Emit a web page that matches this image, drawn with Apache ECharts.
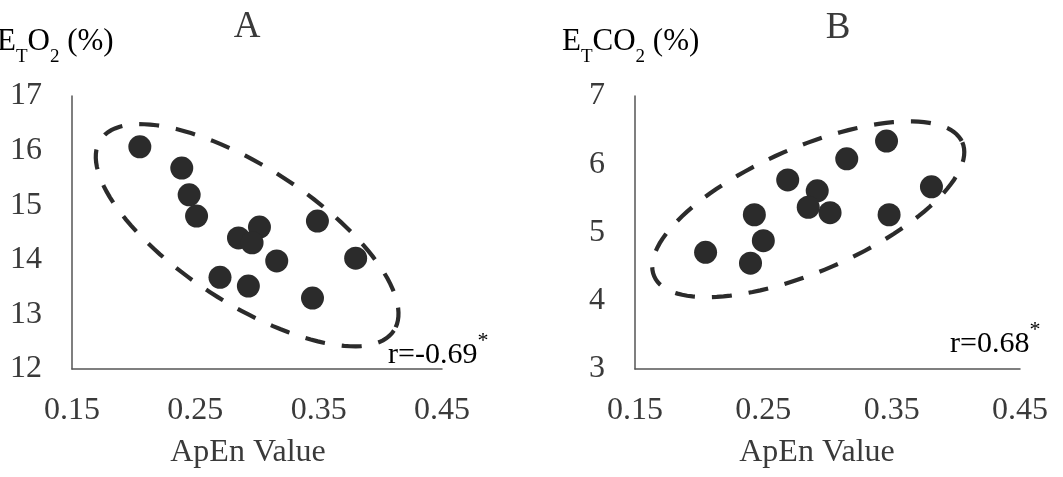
<!DOCTYPE html>
<html>
<head>
<meta charset="utf-8">
<script src="https://cdn.jsdelivr.net/npm/echarts@6/dist/echarts.min.js"></script>
<style>
  html, body { margin: 0; padding: 0; background: #fff; }
  #chart { width: 1063px; height: 477px; }
</style>
</head>
<body>
<div id="chart"></div>
<script>
// panel A: ApEn vs end-tidal O2
var apenA = [0.205, 0.239, 0.245, 0.251, 0.285, 0.302, 0.296, 0.316, 0.349, 0.380, 0.270, 0.293, 0.345];
var eto2  = [16.07, 15.68, 15.19, 14.80, 14.40, 14.60, 14.31, 13.98, 14.71, 14.03, 13.68, 13.52, 13.30];
// panel B: ApEn vs end-tidal CO2
var apenB = [0.205, 0.240, 0.250, 0.243, 0.269, 0.292, 0.285, 0.302, 0.315, 0.346, 0.381, 0.348];
var etco2 = [4.71, 4.55, 4.88, 5.26, 5.77, 5.61, 5.37, 5.29, 6.08, 6.34, 5.67, 5.26];

var xTickLabels = [0.15, 0.25, 0.35, 0.45];
var rA = 'r=-0.69';
var rB = 'r=0.68';

// centre of the dashed ellipses (data units)
var ellipseCenterA = [0.292, 14.45];
var ellipseCenterB = [0.285, 5.34];

var serif = '"Liberation Serif", "DejaVu Serif", serif';
var ink = '#2b2b2b';
var textCol = '#3a3a3a';

function pairs(xs, ys) {
    return xs.map(function (x, i) { return [x, ys[i]]; });
}

// draw an ellipse around a data point, radii in px, tilt in degrees
function ellipseRenderer(rx, ry, tilt) {
    return function (params, api) {
        var c = api.coord([api.value(0), api.value(1)]);
        var th = tilt * Math.PI / 180;
        var pts = [];
        for (var i = 0; i <= 120; i++) {
            var t = i / 120 * Math.PI * 2;
            var ex = rx * Math.cos(t), ey = ry * Math.sin(t);
            pts.push([c[0] + ex * Math.cos(th) - ey * Math.sin(th),
                      c[1] + ex * Math.sin(th) + ey * Math.cos(th)]);
        }
        return {
            type: 'polyline',
            shape: { points: pts },
            silent: true,
            style: { fill: 'none', stroke: ink, lineWidth: 4.2, lineDash: [20, 17] }
        };
    };
}

function xAxisCfg(idx) {
    return {
        gridIndex: idx, type: 'value', min: 0.15, max: 0.45, interval: 0.05,
        axisLine: { show: true, onZero: false, lineStyle: { color: '#555', width: 1.5 } },
        axisTick: { show: false },
        splitLine: { show: false },
        axisLabel: {
            margin: 26, color: textCol, fontFamily: serif, fontSize: 32,
            formatter: function (v) {
                var hit = xTickLabels.some(function (t) { return Math.round(t * 100) === Math.round(v * 100); });
                return hit ? v.toFixed(2) : '';
            }
        }
    };
}

function yAxisCfg(idx, min, max) {
    return {
        gridIndex: idx, type: 'value', min: min, max: max, interval: 1,
        axisLine: { show: true, onZero: false, lineStyle: { color: '#555', width: 1.5 } },
        axisTick: { show: false },
        splitLine: { show: false },
        axisLabel: { margin: 30, color: textCol, fontFamily: serif, fontSize: 32 }
    };
}

// subscripts: main text hangs from the line top, small text sits on a taller line bottom
var richTitle = {
    m: { fontFamily: serif, fontSize: 31, color: textCol, lineHeight: 31, verticalAlign: 'top' },
    s: { fontFamily: serif, fontSize: 19, color: textCol, lineHeight: 41, verticalAlign: 'bottom' }
};
var richR = {
    m: { fontFamily: serif, fontSize: 30, color: textCol, lineHeight: 30, verticalAlign: 'bottom' },
    a: { fontFamily: serif, fontSize: 22, color: '#666', lineHeight: 40, verticalAlign: 'top' }
};

var option = {
    backgroundColor: '#fff',
    animation: false,
    grid: [
        { left: 72, top: 96, width: 370, height: 273 },
        { left: 635, top: 96, width: 385, height: 273 }
    ],
    xAxis: [xAxisCfg(0), xAxisCfg(1)],
    yAxis: [yAxisCfg(0, 12, 17), yAxisCfg(1, 3, 7)],
    graphic: [
        { type: 'text', left: -3, top: 26, style: { text: '{m|E}{s|T}{m|O}{s|2}{m| (%)}', rich: richTitle } },
        { type: 'text', left: 562, top: 26, style: { text: '{m|E}{s|T}{m|CO}{s|2}{m| (%)}', rich: richTitle } },
        { type: 'text', x: 247, y: 27, style: { text: 'A', fontFamily: serif, fontSize: 37, fill: textCol, align: 'center', verticalAlign: 'middle' } },
        { type: 'text', x: 838, y: 28, style: { text: 'B', fontFamily: serif, fontSize: 37, fill: textCol, align: 'center', verticalAlign: 'middle' } },
        { type: 'text', x: 248, y: 453, style: { text: 'ApEn Value', fontFamily: serif, fontSize: 32, fill: textCol, align: 'center', verticalAlign: 'middle' } },
        { type: 'text', x: 817, y: 453, style: { text: 'ApEn Value', fontFamily: serif, fontSize: 32, fill: textCol, align: 'center', verticalAlign: 'middle' } },
        { type: 'text', left: 388, top: 330, style: { text: '{m|' + rA + '}{a|*}', rich: richR } },
        { type: 'text', left: 950, top: 319, style: { text: '{m|' + rB + '}{a|*}', rich: richR } }
    ],
    series: [
        {
            type: 'custom', xAxisIndex: 0, yAxisIndex: 0, z: 1, clip: false,
            renderItem: ellipseRenderer(175, 68, 33),
            data: [ellipseCenterA]
        },
        {
            type: 'custom', xAxisIndex: 1, yAxisIndex: 1, z: 1, clip: false,
            renderItem: ellipseRenderer(168, 62, -23.5),
            data: [ellipseCenterB]
        },
        {
            type: 'scatter', xAxisIndex: 0, yAxisIndex: 0, z: 3,
            symbolSize: 23, itemStyle: { color: ink, opacity: 1 },
            data: pairs(apenA, eto2)
        },
        {
            type: 'scatter', xAxisIndex: 1, yAxisIndex: 1, z: 3,
            symbolSize: 23, itemStyle: { color: ink, opacity: 1 },
            data: pairs(apenB, etco2)
        }
    ]
};

var myChart = echarts.init(document.getElementById('chart'));
myChart.setOption(option);
</script>
</body>
</html>
